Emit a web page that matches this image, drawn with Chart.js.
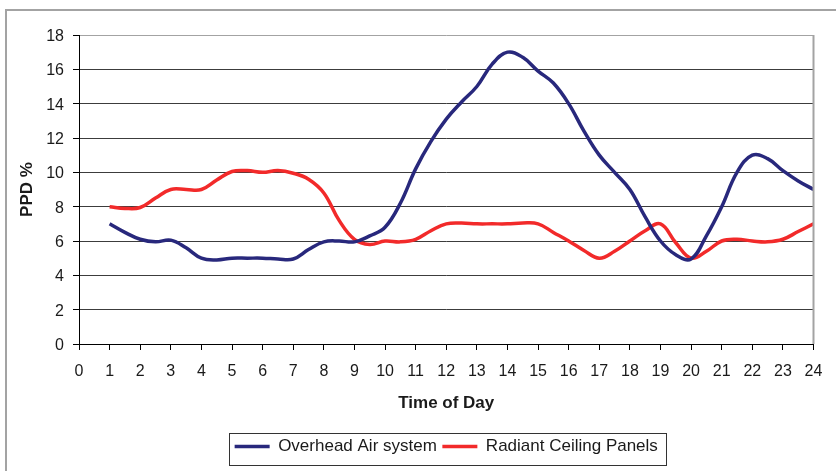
<!DOCTYPE html>
<html lang="en">

<head>
    <meta charset="UTF-8">
    <title>PPD % - Time of Day</title>
    <script src="https://cdn.jsdelivr.net/npm/chart.js"></script>
    <style>
        body { margin: 0; background: #ffffff; }
        #grafico { display: block; }
    </style>
</head>

<body>
    <canvas id="grafico" width="836" height="471"></canvas>
</body>

</html>

<script>
    // horas do dia (meia em meia hora, de 1 a 24)
    const horas = [1, 1.5, 2, 2.5, 3, 3.5, 4, 4.5, 5, 5.5, 6, 6.5, 7, 7.5, 8, 8.5, 9, 9.5, 10, 10.5, 11, 11.5, 12, 12.5,
        13, 13.5, 14, 14.5, 15, 15.5, 16, 16.5, 17, 17.5, 18, 18.5, 19, 19.5, 20, 20.5, 21, 21.5, 22, 22.5, 23, 23.5, 24];

    // PPD % - Overhead Air system
    const overheadAir = [7.0, 6.5, 6.1, 5.95, 6.05, 5.6, 5.0, 4.9, 5.0, 5.0, 5.0, 4.95, 4.95, 5.5, 5.95, 6.0, 5.95, 6.3,
        6.8, 8.2, 10.2, 11.8, 13.1, 14.1, 15.0, 16.3, 17.0, 16.7, 15.9, 15.2, 14.0, 12.4, 11.0, 10.0, 9.0, 7.4, 6.0,
        5.2, 4.95, 6.3, 8.0, 10.0, 11.0, 10.8, 10.1, 9.5, 9.0];

    // PPD % - Radiant Ceiling Panels
    const radiantPanels = [8.0, 7.9, 7.95, 8.5, 9.0, 9.0, 9.0, 9.55, 10.05, 10.1, 10.0, 10.1, 9.95, 9.6, 8.8, 7.2, 6.1,
        5.8, 6.0, 5.95, 6.1, 6.6, 7.0, 7.05, 7.0, 7.0, 7.0, 7.05, 7.0, 6.5, 6.0, 5.45, 5.0, 5.4, 6.0, 6.6, 7.0, 5.9, 5.0,
        5.4, 6.0, 6.1, 6.0, 5.95, 6.1, 6.55, 7.0];

    const nomesSeries = ['Overhead Air system', 'Radiant Ceiling Panels'];

    Chart.defaults.font.family = '"Liberation Sans", Arial, sans-serif';
    Chart.defaults.color = '#1a1a1a';

    function pontos(valores) {
        return horas.map((h, i) => ({ x: h, y: valores[i] }));
    }

    // moldura cinza do quadro, borda direita da area do grafico e caixa da legenda
    const molduras = {
        id: 'molduras',
        beforeDraw(chart) {
            const ctx = chart.ctx;
            ctx.save();
            ctx.fillStyle = '#ffffff';
            ctx.fillRect(0, 0, chart.width, chart.height);
            ctx.strokeStyle = '#a3a3a3';
            ctx.lineWidth = 2;
            ctx.beginPath();
            ctx.moveTo(6, chart.height);
            ctx.lineTo(6, 10);
            ctx.lineTo(chart.width, 10);
            ctx.stroke();
            ctx.restore();
        },
        afterDraw(chart) {
            const ctx = chart.ctx;
            const area = chart.chartArea;
            ctx.save();
            ctx.strokeStyle = '#a3a3a3';
            ctx.lineWidth = 2;
            ctx.beginPath();
            ctx.moveTo(area.right, area.top);
            ctx.lineTo(area.right, area.bottom);
            ctx.stroke();

            const caixas = chart.legend.legendHitBoxes;
            if (caixas && caixas.length) {
                const esq = caixas[0].left - 6;
                const ultima = caixas[caixas.length - 1];
                const dir = ultima.left + ultima.width + 8;
                ctx.strokeStyle = '#333333';
                ctx.lineWidth = 1;
                ctx.strokeRect(Math.round(esq) + 0.5, Math.round(chart.legend.top) + 0.5,
                    Math.round(dir - esq), Math.round(chart.legend.bottom - chart.legend.top) - 1);
            }
            ctx.restore();
        }
    };

    const dados = {
        datasets: [{
            label: nomesSeries[0],
            data: pontos(overheadAir),
            borderColor: '#28287c',
            backgroundColor: '#28287c',
            borderWidth: 3.5,
            pointRadius: 0,
            tension: 0.4,
            fill: false
        }, {
            label: nomesSeries[1],
            data: pontos(radiantPanels),
            borderColor: '#f22a2a',
            backgroundColor: '#f22a2a',
            borderWidth: 3.5,
            pointRadius: 0,
            tension: 0.4,
            fill: false
        }]
    };

    const config = {
        type: 'line',
        data: dados,
        plugins: [molduras],
        options: {
            responsive: false,
            animation: false,
            layout: {
                padding: { left: 17, right: 22.5, top: 35, bottom: 6 }
            },
            scales: {
                x: {
                    type: 'linear',
                    min: 0,
                    max: 24,
                    ticks: {
                        stepSize: 1,
                        padding: 11.5,
                        font: { size: 16 },
                        maxRotation: 0
                    },
                    grid: {
                        drawOnChartArea: false,
                        tickLength: 6,
                        tickColor: '#000000'
                    },
                    border: { color: '#000000', width: 1 },
                    title: {
                        display: true,
                        text: 'Time of Day',
                        font: { size: 17, weight: 'bold' },
                        padding: { top: 0, bottom: 19 }
                    },
                    afterFit(scale) {
                        scale.height = 88.5;
                    }
                },
                y: {
                    min: 0,
                    max: 18,
                    ticks: {
                        stepSize: 2,
                        padding: 9,
                        labelOffset: 1.5,
                        font: { size: 16 }
                    },
                    grid: {
                        color: (c) => c.tick && c.tick.value === 18 ? '#a3a3a3' : '#3c3c3c',
                        tickColor: '#000000',
                        tickLength: 6,
                        lineWidth: 1
                    },
                    border: { color: '#000000', width: 1 },
                    title: {
                        display: true,
                        text: 'PPD %',
                        font: { size: 17, weight: 'bold' },
                        padding: 0
                    },
                    afterFit(scale) {
                        scale.width = 62;
                    }
                }
            },
            plugins: {
                legend: {
                    display: true,
                    position: 'bottom',
                    fullSize: false,
                    labels: {
                        usePointStyle: true,
                        pointStyle: 'line',
                        pointStyleWidth: 35,
                        padding: 5.5,
                        font: { size: 17 },
                        color: '#1a1a1a'
                    }
                },
                tooltip: { enabled: false }
            }
        }
    };

    new Chart(document.getElementById('grafico'), config);
</script>
